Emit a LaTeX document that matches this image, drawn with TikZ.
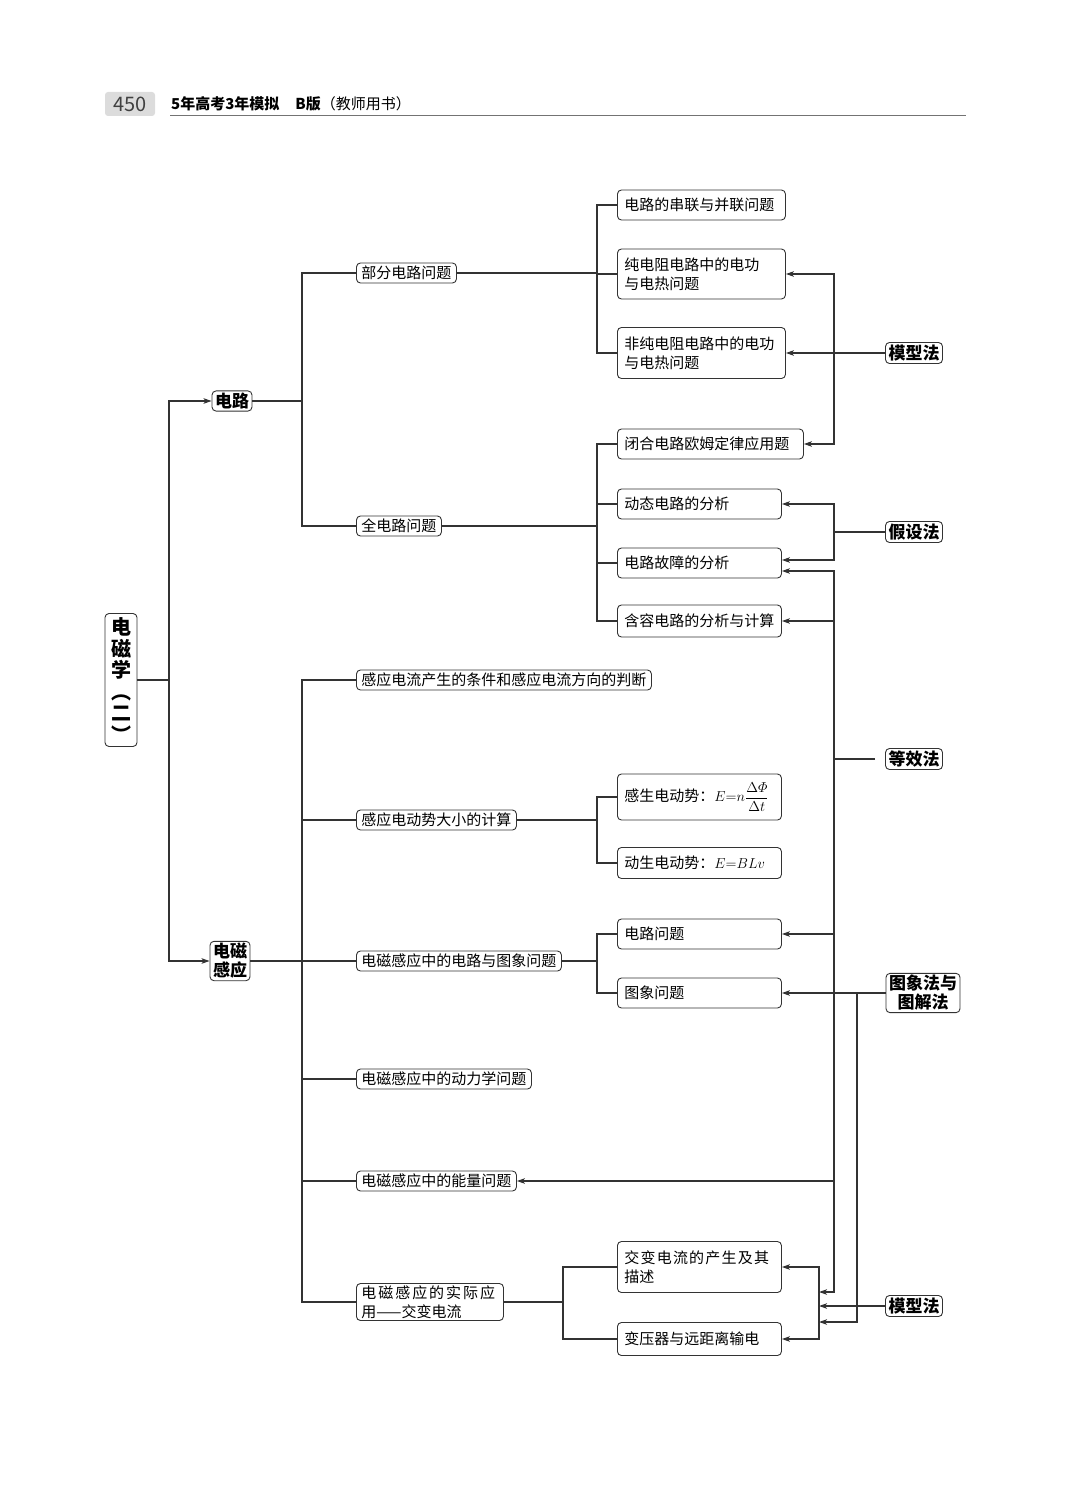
\documentclass[tikz,border=0pt]{standalone}
\usepackage{amsmath}
\usepackage[no-math]{fontspec}
\setmainfont{Noto Sans CJK SC}
\usetikzlibrary{arrows.meta}
\definecolor{linec}{HTML}{333333}
\definecolor{headgray}{HTML}{DCDCDC}
\tikzset{
  box/.style={draw=linec, line width=0.9pt, rounded corners=4pt, inner xsep=5pt, inner ysep=2pt, anchor=west, font=\fontsize{15}{19}\selectfont},
  lv2/.style={box, minimum height=20pt},
  lv3/.style={box, inner xsep=7pt, minimum height=30pt, text width=#1, align=left},
  lv3/.default=150pt,
  topic/.style={box, anchor=center, inner xsep=3pt, font=\fontsize{17}{19}\selectfont\bfseries, align=center},
  method/.style={topic, minimum height=21pt},
  link/.style={draw=linec, line width=1.1pt},
  arr/.style={link, -{Stealth[length=8pt,width=5.5pt,inset=2pt]}},
}
\begin{document}
\begin{tikzpicture}[x=1pt, y=-1pt]
\useasboundingbox (0,0) rectangle (1080,1501);
% header
\node[fill=headgray, rounded corners=3pt, minimum width=50pt, minimum height=24pt, font=\fontsize{20}{20}\selectfont, text=black!75] (page) at (130,104) {450};
\node[anchor=west, inner sep=0pt, font=\fontsize{15}{15}\selectfont] (title) at (171,104) {\textbf{5年高考3年模拟}\hspace{16pt}\textbf{B版}（教师用书）};
\draw[black!55, line width=0.8pt] (170,115) -- (966,115);
% nodes
\node[topic, font=\fontsize{20}{21.5}\selectfont\bfseries, minimum width=32pt, minimum height=133pt, inner xsep=0pt] (root) at (121,680) {电\\磁\\学\\︵\\二\\︶};
\node[topic] (dianlu) at (232,401) {电路};
\node[topic] (ganying) at (230,961) {电磁\\感应};

\node[lv2] (bufen) at (356,273) {部分电路问题};
\node[lv2] (quan) at (356,526) {全电路问题};
\node[lv2] (tiaojian) at (356,680) {感应电流产生的条件和感应电流方向的判断};
\node[lv2] (daxiao) at (356,820) {感应电动势大小的计算};
\node[lv2] (tuxiang) at (356,961) {电磁感应中的电路与图象问题};
\node[lv2] (dongli) at (356,1079) {电磁感应中的动力学问题};
\node[lv2] (nengliang) at (356,1181) {电磁感应中的能量问题};
\node[lv2, text width=137pt, align=left] (shiji) at (356,1302) {{\addfontfeature{LetterSpace=13}电磁感应的实际应}\\用——交变电流};

\node[lv3=154pt] (chuan) at (617,205) {电路的串联与并联问题};
\node[lv3=154pt, minimum height=50pt] (chundian) at (617,274) {纯电阻电路中的电功\\与电热问题};
\node[lv3=154pt, minimum height=51pt] (feichun) at (617,353) {非纯电阻电路中的电功\\与电热问题};
\node[lv3=172pt] (bihe) at (617,444) {闭合电路欧姆定律应用题};
\node[lv3] (dongtai) at (617,504) {动态电路的分析};
\node[lv3] (guzhang) at (617,563) {电路故障的分析};
\node[lv3, align=center, minimum height=32pt] (hanrong) at (617,621) {含容电路的分析与计算};
\node[lv3, minimum height=46pt] (gansheng) at (617,797) {感生电动势：$E{=}n\dfrac{\Delta\varPhi}{\Delta t}$};
\node[lv3, minimum height=31pt] (dongsheng) at (617,863) {动生电动势：$E{=}BLv$};
\node[lv3] (dianluwt) at (617,934) {电路问题};
\node[lv3] (tuxwt) at (617,993) {图象问题};
\node[lv3, minimum height=51pt] (jiaobian) at (617,1267) {{\addfontfeature{LetterSpace=8}交变电流的产生及其}\\描述};
\node[lv3, minimum height=33pt] (bianya) at (617,1339) {变压器与远距离输电};

\node[method] (mx1) at (914,353) {模型法};
\node[method] (jsf) at (914,532) {假设法};
\node[method] (dxf) at (914,759) {等效法};
\node[method] (txf) at (923,993) {图象法与\\图解法};
\node[method] (mx2) at (914,1306) {模型法};

\coordinate (b0) at (169,0);
\coordinate (b1) at (302,0);
\coordinate (b2) at (597,0);
\coordinate (b3) at (563,0);
\coordinate (r1) at (834,0);
\coordinate (r2) at (857,0);
\coordinate (bar) at (819,0);
\coordinate (j1) at (819,1292);
\coordinate (j2) at (819,1322);
% edges
\draw[link] (root.east) -- (root.east -| b0);
\draw[arr] (root.east -| b0) |- (dianlu.west);
\draw[arr] (root.east -| b0) |- (ganying.west);

\draw[link] (dianlu.east) -- (dianlu.east -| b1);
\foreach \n in {bufen, quan} \draw[link] (dianlu.east -| b1) |- (\n.west);
\draw[link] (ganying.east) -- (tuxiang.west);
\foreach \n in {tiaojian, daxiao, dongli, nengliang, shiji} \draw[link] (ganying.east -| b1) |- (\n.west);

\draw[link] (bufen.east) -- (bufen.east -| b2);
\foreach \n in {chuan, chundian, feichun} \draw[link] (bufen.east -| b2) |- (\n.west);
\draw[link] (quan.east) -- (quan.east -| b2);
\foreach \n in {bihe, dongtai, guzhang, hanrong} \draw[link] (quan.east -| b2) |- (\n.west);
\draw[link] (daxiao.east) -- (daxiao.east -| b2);
\foreach \n in {gansheng, dongsheng} \draw[link] (daxiao.east -| b2) |- (\n.west);
\draw[link] (tuxiang.east) -- (tuxiang.east -| b2);
\foreach \n in {dianluwt, tuxwt} \draw[link] (tuxiang.east -| b2) |- (\n.west);
\draw[link] (shiji.east) -- (shiji.east -| b3);
\foreach \n in {jiaobian, bianya} \draw[link] (shiji.east -| b3) |- (\n.west);

% methods
\draw[link] (mx1.west) -- (mx1.west -| r1);
\foreach \n in {chundian, feichun, bihe} \draw[arr] (mx1.west -| r1) |- (\n.east);
\draw[link] (jsf.west) -- (jsf.west -| r1);
\draw[arr] (jsf.west -| r1) |- (dongtai.east);
\draw[arr] (jsf.west -| r1) |- ([yshift=3pt]guzhang.east);
\draw[link, shorten <=10pt] (dxf.west) -- (dxf.west -| r1);
\draw[arr] (dxf.west -| r1) |- ([yshift=-8pt]guzhang.east);
\foreach \n in {hanrong, dianluwt, nengliang} \draw[arr] (dxf.west -| r1) |- (\n.east);
\draw[arr] (dxf.west -| r1) |- (j1);
\draw[arr] (txf.west) -- (tuxwt.east);
\draw[arr] (txf.west -| r2) |- (j2);
\draw[arr] (mx2.west) -- (mx2.west -| bar);
\foreach \n in {jiaobian, bianya} \draw[arr] (mx2.west -| bar) |- (\n.east);
\end{tikzpicture}
\end{document}
